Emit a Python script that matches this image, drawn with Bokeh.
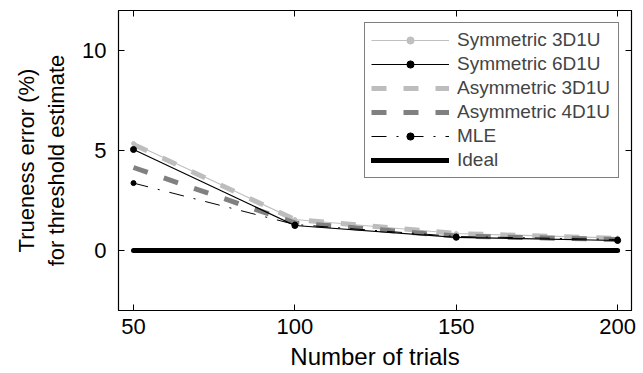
from bokeh.plotting import figure
from bokeh.models import Range1d, LinearAxis, Legend, LegendItem, FixedTicker
from bokeh.embed import file_html
from bokeh.resources import INLINE

trials = [50, 100, 150, 200]
sym3 = [5.35, 1.55, 0.85, 0.62]
sym6 = [5.05, 1.25, 0.66, 0.50]
asym3 = [5.3, 1.55, 0.85, 0.6]
asym4 = [4.15, 1.38, 0.72, 0.55]
mle = [3.37, 1.3, 0.7, 0.55]
ideal = [0, 0, 0, 0]

x_ticks = [50, 100, 150, 200]
y_ticks = [0, 5, 10]

FONT = "Liberation Sans"

p = figure(width=643, height=373, output_backend="svg", toolbar_location=None,
           x_range=Range1d(45.35, 204.3), y_range=Range1d(-3, 12),
           min_border_left=118, min_border_right=12, min_border_top=10, min_border_bottom=63)
p.xgrid.visible = False
p.ygrid.visible = False
p.outline_line_color = "black"
p.outline_line_width = 1.2
p.background_fill_color = "white"
p.border_fill_color = "white"

r_sym3 = p.line(trials, sym3, line_color="#c0c0c0", line_width=1.2)
r_sym3m = p.scatter(trials, sym3, size=4, color="#c0c0c0")
r_asym3 = p.line(trials, asym3, line_color="#bdbdbd", line_width=5, line_dash="15 17")
r_asym4 = p.line(trials, asym4, line_color="#808080", line_width=5, line_dash="15 17")
r_sym6 = p.line(trials, sym6, line_color="black", line_width=1.2)
r_sym6m = p.scatter(trials, sym6, size=6, color="black")
r_mle = p.line(trials, mle, line_color="black", line_width=1, line_dash="15 10 2 10")
r_mlem = p.scatter(trials, mle, size=5, color="black")
r_ideal = p.line(trials, ideal, line_color="black", line_width=5, line_cap="round")

for ax in (p.xaxis[0], p.yaxis[0]):
    ax.major_tick_in = 6
    ax.major_tick_out = 0
    ax.minor_tick_line_color = None
    ax.axis_line_color = "black"
    ax.major_label_text_font = FONT
    ax.major_label_text_font_size = "22px"
    ax.major_label_text_color = "black"
    ax.axis_label_text_font = FONT
    ax.axis_label_text_font_style = "normal"
    ax.axis_label_text_color = "black"

p.xaxis[0].axis_label_text_font_size = "24px"
p.yaxis[0].axis_label_text_font_size = "22px"
p.xaxis[0].ticker = FixedTicker(ticks=x_ticks)
p.yaxis[0].ticker = FixedTicker(ticks=y_ticks)
p.xaxis[0].axis_label = "Number of trials"
p.yaxis[0].axis_label = "Trueness error (%)\nfor threshold estimate"
p.xaxis[0].major_label_standoff = 8
p.yaxis[0].major_label_standoff = 12
p.xaxis[0].axis_label_standoff = 6
p.yaxis[0].axis_label_standoff = 10

top = LinearAxis(ticker=FixedTicker(ticks=x_ticks), major_label_text_font_size="0px",
                 major_tick_in=6, major_tick_out=0, minor_tick_line_color=None)
right = LinearAxis(ticker=FixedTicker(ticks=y_ticks), major_label_text_font_size="0px",
                   major_tick_in=6, major_tick_out=0, minor_tick_line_color=None)
top.major_label_text_color = None
right.major_label_text_color = None
p.add_layout(top, "above")
p.add_layout(right, "right")

legend = Legend(items=[
    LegendItem(label="Symmetric 3D1U", renderers=[r_sym3, r_sym3m]),
    LegendItem(label="Symmetric 6D1U", renderers=[r_sym6, r_sym6m]),
    LegendItem(label="Asymmetric 3D1U", renderers=[r_asym3]),
    LegendItem(label="Asymmetric 4D1U", renderers=[r_asym4]),
    LegendItem(label="MLE", renderers=[r_mle, r_mlem]),
    LegendItem(label="Ideal", renderers=[r_ideal]),
], location="top_right")
legend.margin = 12
legend.padding = 6
legend.spacing = 2
legend.glyph_width = 78
legend.glyph_height = 18
legend.label_standoff = 8
legend.label_text_font = FONT
legend.label_text_font_size = "19px"
legend.label_height = 18
legend.label_width = 155
legend.border_line_color = "black"
legend.border_line_width = 1.2
legend.background_fill_alpha = 1.0
p.add_layout(legend, "center")

open("out.html", "w").write(file_html(p, INLINE))
